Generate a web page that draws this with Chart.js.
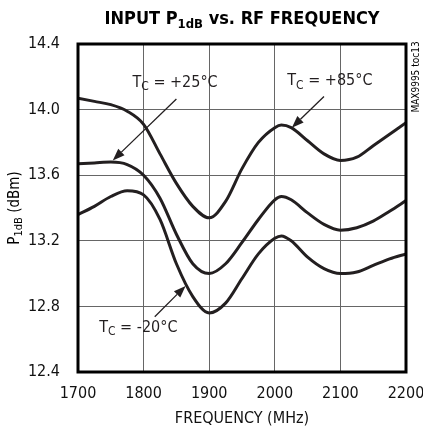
<!DOCTYPE html>
<html>
<head>
<meta charset="utf-8">
<script src="https://cdn.jsdelivr.net/npm/chart.js@4.4.0/dist/chart.umd.min.js"></script>
<style>
  html, body { margin: 0; padding: 0; background: #fff; }
  #wrap { width: 423px; height: 434px; }
</style>
</head>
<body>
<div id="wrap"><canvas id="p1db-chart" width="423" height="434"></canvas></div>
<script>
// chart data
const freqs = [1700, 1725, 1750, 1775, 1800, 1825, 1850, 1875, 1900, 1925, 1950, 1975,
               2000, 2010, 2025, 2050, 2075, 2100, 2125, 2150, 2175, 2200];
const p85 = [14.07, 14.05, 14.03, 13.99, 13.91, 13.73, 13.55, 13.41, 13.34, 13.44, 13.64, 13.80,
             13.89, 13.906, 13.89, 13.81, 13.73, 13.69, 13.71, 13.78, 13.85, 13.92];
const p25 = [13.67, 13.675, 13.68, 13.665, 13.60, 13.46, 13.24, 13.06, 13.00, 13.06, 13.19, 13.33,
             13.45, 13.47, 13.45, 13.37, 13.30, 13.265, 13.28, 13.32, 13.38, 13.445];
const pm20 = [13.36, 13.41, 13.47, 13.505, 13.48, 13.33, 13.06, 12.86, 12.76, 12.82, 12.97, 13.12,
              13.215, 13.23, 13.20, 13.10, 13.03, 13.00, 13.01, 13.05, 13.09, 13.12];
const xTicks = [1700, 1800, 1900, 2000, 2100, 2200];
const yTicks = [12.4, 12.8, 13.2, 13.6, 14.0, 14.4];

// labels with arrows: text pos, arrow tail, arrow tip (in data units)
const callouts = [
    { label: ["T", "C", " = +25°C"], at: [1848, 14.14], from: [1850, 14.065], to: [1753, 13.69] },
    { label: ["T", "C", " = +85°C"], at: [2084, 14.15], from: [2075, 14.08], to: [2026, 13.89] },
    { label: ["T", "C", " = -20°C"], at: [1792, 12.645], from: [1817, 12.737], to: [1864, 12.925] },
];

const NARROW = "'Liberation Sans Narrow', 'DejaVu Sans Condensed', 'Liberation Sans', sans-serif";
const INK = "#231f20";

function pts(ys) {
    return freqs.map((f, i) => ({ x: f, y: ys[i] }));
}

// draws text like T<sub>C</sub> = ..., odd parts are subscripts
function drawSub(ctx, parts, x, y, size, weight, align) {
    const subSize = Math.round(size * 0.72);
    const fonts = parts.map((p, i) => (i % 2 ? `${weight} ${subSize}px ${NARROW}` : `${weight} ${size}px ${NARROW}`));
    let total = 0;
    const widths = parts.map((p, i) => {
        ctx.font = fonts[i];
        const w = ctx.measureText(p).width;
        total += w;
        return w;
    });
    let cx = align === "center" ? x - total / 2 : x;
    ctx.textAlign = "left";
    ctx.textBaseline = "alphabetic";
    parts.forEach((p, i) => {
        ctx.font = fonts[i];
        ctx.fillText(p, cx, i % 2 ? y + size * 0.22 : y);
        cx += widths[i];
    });
}

function arrow(ctx, x1, y1, x2, y2) {
    const ang = Math.atan2(y2 - y1, x2 - x1);
    const len = 12, half = 4.5;
    const bx = x2 - len * Math.cos(ang), by = y2 - len * Math.sin(ang);
    ctx.strokeStyle = INK;
    ctx.lineWidth = 1.3;
    ctx.beginPath();
    ctx.moveTo(x1, y1);
    ctx.lineTo(bx, by);
    ctx.stroke();
    ctx.fillStyle = INK;
    ctx.beginPath();
    ctx.moveTo(x2, y2);
    ctx.lineTo(bx + half * Math.sin(ang), by - half * Math.cos(ang));
    ctx.lineTo(bx - half * Math.sin(ang), by + half * Math.cos(ang));
    ctx.closePath();
    ctx.fill();
}

const decorations = {
    id: "decorations",
    afterDatasetsDraw(chart) {
        const { ctx, chartArea: a, scales } = chart;
        ctx.save();
        // frame
        ctx.strokeStyle = "#000";
        ctx.lineWidth = 3;
        ctx.strokeRect(a.left, a.top, a.right - a.left, a.bottom - a.top);

        // callouts
        callouts.forEach((c) => {
            ctx.fillStyle = INK;
            drawSub(ctx, c.label, scales.x.getPixelForValue(c.at[0]), scales.y.getPixelForValue(c.at[1]), 16, "normal", "center");
            arrow(ctx,
                scales.x.getPixelForValue(c.from[0]), scales.y.getPixelForValue(c.from[1]),
                scales.x.getPixelForValue(c.to[0]), scales.y.getPixelForValue(c.to[1]));
        });

        // title
        ctx.fillStyle = "#000";
        drawSub(ctx, ["INPUT P", "1dB", " vs. RF FREQUENCY"], (a.left + a.right) / 2, 24, 18, "bold", "center");

        // y axis title
        ctx.save();
        ctx.translate(19, (a.top + a.bottom) / 2);
        ctx.rotate(-Math.PI / 2);
        drawSub(ctx, ["P", "1dB", " (dBm)"], 0, 0, 15, "normal", "center");
        ctx.restore();

        // side note
        ctx.save();
        ctx.translate(419, 77);
        ctx.rotate(-Math.PI / 2);
        ctx.font = `10px ${NARROW}`;
        ctx.textAlign = "center";
        ctx.textBaseline = "alphabetic";
        ctx.fillText("MAX9995 toc13", 0, 0);
        ctx.restore();

        ctx.restore();
    },
};

const lineStyle = {
    borderColor: INK,
    borderWidth: 3,
    pointRadius: 0,
    cubicInterpolationMode: "monotone",
    fill: false,
};

const ctx = document.getElementById("p1db-chart").getContext("2d");
new Chart(ctx, {
    type: "line",
    data: {
        datasets: [
            { label: "+85°C", data: pts(p85), ...lineStyle },
            { label: "+25°C", data: pts(p25), ...lineStyle },
            { label: "-20°C", data: pts(pm20), ...lineStyle },
        ],
    },
    options: {
        responsive: false,
        animation: false,
        layout: { padding: { top: 44, right: 17, left: 0, bottom: 0 } },
        plugins: { legend: { display: false }, tooltip: { enabled: false } },
        scales: {
            x: {
                type: "linear",
                min: 1700,
                max: 2200,
                afterBuildTicks: (s) => { s.ticks = xTicks.map((v) => ({ value: v })); },
                afterFit: (s) => {
                    s.height = 62;
                    s.paddingLeft = 0;
                    s.paddingRight = 0;
                },
                grid: { color: "#666", lineWidth: 1, drawTicks: false },
                border: { display: false },
                ticks: {
                    color: "#111",
                    padding: 12,
                    font: { family: NARROW, size: 16 },
                    maxRotation: 0,
                    callback: (v) => String(v),
                },
                title: {
                    display: true,
                    text: "FREQUENCY (MHz)",
                    color: "#111",
                    font: { family: NARROW, size: 16 },
                    padding: { top: 0, bottom: 6 },
                },
            },
            y: {
                type: "linear",
                min: 12.4,
                max: 14.4,
                afterBuildTicks: (s) => { s.ticks = yTicks.map((v) => ({ value: v })); },
                afterFit: (s) => {
                    s.width = 78;
                    s.paddingTop = 0;
                    s.paddingBottom = 0;
                },
                grid: { color: "#666", lineWidth: 1, drawTicks: false },
                border: { display: false },
                ticks: {
                    color: "#111",
                    padding: 18,
                    font: { family: NARROW, size: 16 },
                    callback: (v) => v.toFixed(1),
                },
            },
        },
    },
    plugins: [decorations],
});
</script>
</body>
</html>
